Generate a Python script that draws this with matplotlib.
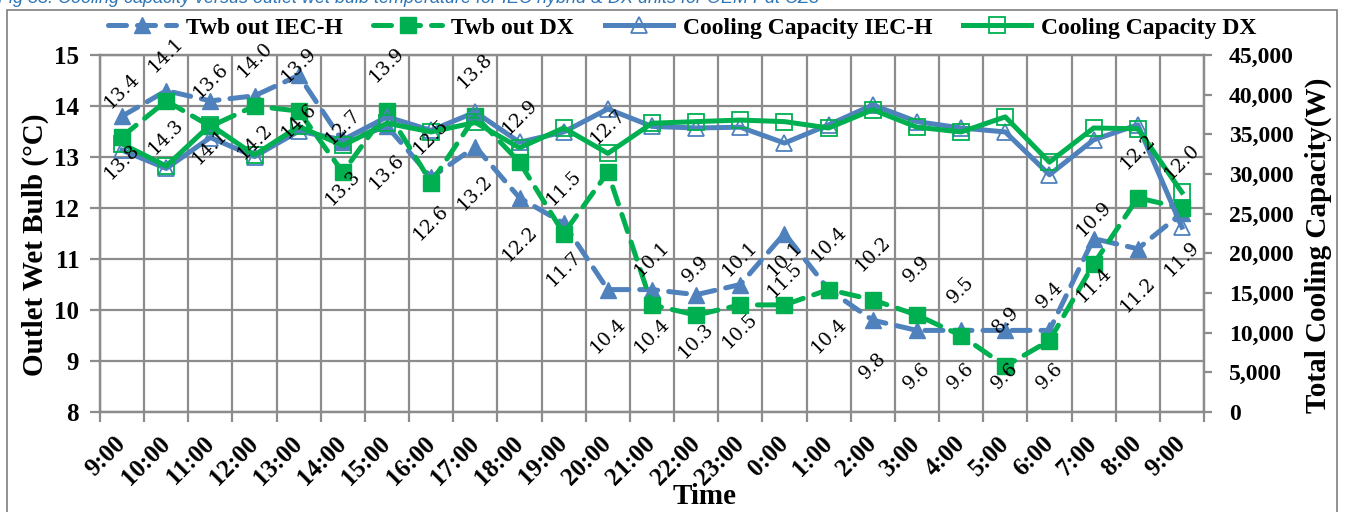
import numpy as np
import matplotlib
matplotlib.use("Agg")
import matplotlib.pyplot as plt
from matplotlib.patches import Rectangle
from matplotlib.ticker import FixedLocator, FuncFormatter, MultipleLocator
from matplotlib.transforms import ScaledTranslation

times = ["9:00", "10:00", "11:00", "12:00", "13:00", "14:00", "15:00", "16:00",
         "17:00", "18:00", "19:00", "20:00", "21:00", "22:00", "23:00", "0:00",
         "1:00", "2:00", "3:00", "4:00", "5:00", "6:00", "7:00", "8:00", "9:00"]

# outlet wet bulb (deg C)
twb_iec = [13.8, 14.3, 14.1, 14.2, 14.6, 13.3, 13.6, 12.6, 13.2, 12.2, 11.7, 10.4, 10.4,
           10.3, 10.5, 11.5, 10.4, 9.8, 9.6, 9.6, 9.6, 9.6, 11.4, 11.2, 11.9]
twb_dx = [13.4, 14.1, 13.6, 14.0, 13.9, 12.7, 13.9, 12.5, 13.8, 12.9, 11.5, 12.7, 10.1,
          9.9, 10.1, 10.1, 10.4, 10.2, 9.9, 9.5, 8.9, 9.4, 10.9, 12.2, 12.0]

# total cooling capacity (W)
cap_iec = [33000, 30700, 34600, 32200, 35400, 34300, 37200, 35500, 37800, 34000, 35300,
           38200, 36000, 35800, 35900, 33900, 36200, 38700, 36600, 35800, 35300, 29900,
           34300, 36200, 23300]
cap_dx = [33800, 31000, 36200, 32400, 36000, 33600, 36400, 35300, 36500, 33300, 35800,
          32600, 36400, 36600, 36800, 36600, 35800, 38100, 35900, 35300, 37200, 31500,
          35800, 35700, 27700]

BLUE = "#4F81BD"
GREEN = "#00B050"
GRID = "#8C8C8C"
SERIF = ["Liberation Serif", "DejaVu Serif"]
LABEL_FONT = ["DejaVu Serif"]

W, H = 1346, 512
fig = plt.figure(figsize=(W / 100, H / 100), dpi=100)
ax = fig.add_axes([100 / W, 1 - 412 / H, 1104 / W, 357 / H])
ax2 = ax.twinx()

x = np.arange(len(times))

l1, = ax.plot(x, twb_iec, color=BLUE, lw=3.6, ls=(0, (3.6, 2.2)), dash_capstyle="round",
              marker="^", ms=12, mfc=BLUE, mec=BLUE, label="Twb out IEC-H", zorder=3)
l2, = ax.plot(x, twb_dx, color=GREEN, lw=3.6, ls=(0, (3.6, 2.2)), dash_capstyle="round",
              marker="s", ms=12, mfc=GREEN, mec=GREEN, label="Twb out DX", zorder=3)
l3, = ax2.plot(x, cap_iec, color=BLUE, lw=3.6, marker="^", ms=12, mfc="none", mec=BLUE,
               mew=1.3, label="Cooling Capacity IEC-H", zorder=3)
l4, = ax2.plot(x, cap_dx, color=GREEN, lw=3.6, marker="s", ms=12, mfc="none", mec=GREEN,
               mew=1.3, label="Cooling Capacity DX", zorder=4)

# data labels (drawn on top axes so they sit above every line)
for i in range(len(times)):
    ax2.annotate(f"{twb_dx[i]:.1f}", (x[i], twb_dx[i]), xycoords=ax.transData,
                 xytext=(0, 33), textcoords="offset points", ha="center", va="center",
                 rotation=45, fontsize=13.5, family=LABEL_FONT, zorder=6)
    ax2.annotate(f"{twb_iec[i]:.1f}", (x[i], twb_iec[i]), xycoords=ax.transData,
                 xytext=(0, -33), textcoords="offset points", ha="center", va="center",
                 rotation=45, fontsize=13.5, family=LABEL_FONT, zorder=6)

ax.set_xlim(-0.5, len(times) - 0.5)
ax.set_ylim(8, 15)
ax2.set_ylim(0, 45000)

ax.set_xticks(x)
ax.set_xticklabels(times, rotation=45, ha="right", va="center", rotation_mode="anchor",
                   fontsize=18, fontweight="bold", family=SERIF)
shift = ScaledTranslation(-15 / 100, 0, fig.dpi_scale_trans)
for t in ax.get_xticklabels():
    t.set_transform(t.get_transform() + shift)
ax.xaxis.set_minor_locator(FixedLocator(np.arange(-0.5, len(times), 1)))
ax.tick_params(axis="x", which="major", length=0, pad=20)
ax.tick_params(axis="x", which="minor", length=7, width=1.6, color=GRID)
ax.grid(True, axis="x", which="minor", color=GRID, lw=1.6)
ax.grid(True, axis="y", which="major", color=GRID, lw=1.6)

ax.yaxis.set_major_locator(MultipleLocator(1))
ax.tick_params(axis="y", length=7, width=1.6, color=GRID, pad=8, labelsize=18)
for t in ax.get_yticklabels():
    t.set_family(SERIF)
    t.set_fontweight("bold")

ax2.yaxis.set_major_locator(MultipleLocator(5000))
ax2.yaxis.set_major_formatter(FuncFormatter(lambda v, p: f"{v:,.0f}"))
ax2.tick_params(axis="y", length=6, width=1.6, color=GRID, pad=12, labelsize=17)
for t in ax2.get_yticklabels():
    t.set_family(SERIF)
    t.set_fontweight("bold")

for a in (ax, ax2):
    for s in a.spines.values():
        s.set_color(GRID)
        s.set_linewidth(1.6)

ax.set_axisbelow(True)

fig.text(35 / W, 1 - 245 / H, "Outlet Wet Bulb (°C)", rotation=90, ha="center", va="center",
         fontsize=21, fontweight="bold", family=SERIF)
fig.text(1318 / W, 1 - 245 / H, "Total Cooling Capacity(W)", rotation=90, ha="center",
         va="center", fontsize=21, fontweight="bold", family=SERIF)
fig.text(705 / W, 1 - 497 / H, "Time", ha="center", va="center",
         fontsize=21, fontweight="bold", family=SERIF)

fig.legend(handles=[l1, l2, l3, l4], loc="center", bbox_to_anchor=(682 / W, 1 - 28 / H),
           ncol=4, frameon=False, handlelength=2.9, columnspacing=1.3, handletextpad=0.4,
           prop={"family": SERIF, "weight": "bold", "size": 17})

# figure caption, clipped at the top edge as in the source
fig.text(-2 / W, 1 - 3 / H,
         "Fig 33: Cooling capacity versus outlet wet bulb temperature for IEC hybrid & DX units for OEM Pdt CZ3",
         ha="left", va="baseline", fontsize=13, style="italic", color="#2E75B6",
         family=["Liberation Sans", "DejaVu Sans"])

fig.patches.append(Rectangle((7 / W, -0.02), 1330 / W, 1.02 - 10 / H, transform=fig.transFigure,
                             fill=False, edgecolor="#7F7F7F", lw=1.2))

fig.savefig("out.png", dpi=100)
